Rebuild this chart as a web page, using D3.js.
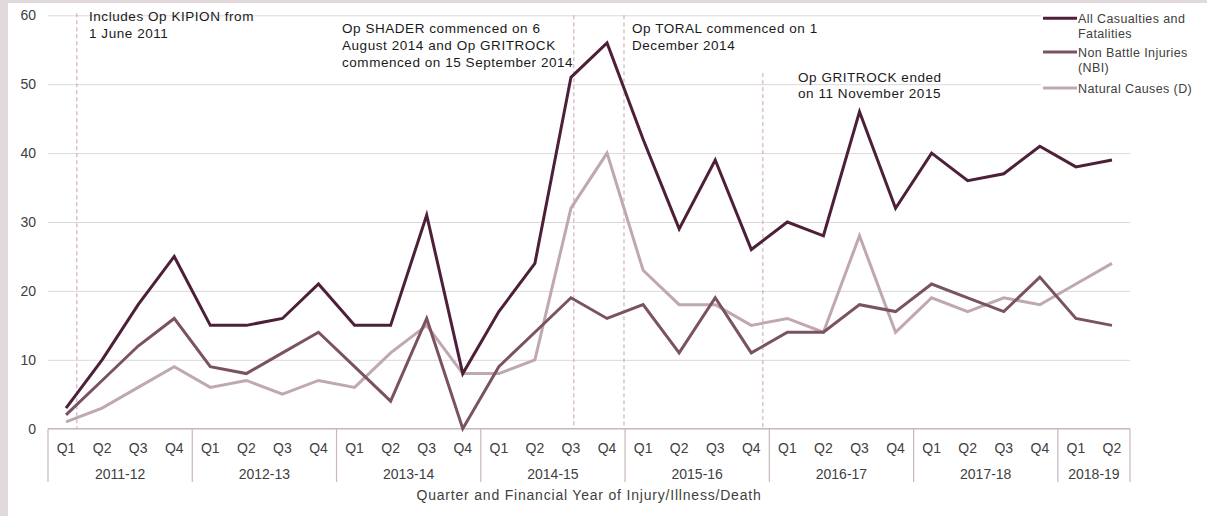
<!DOCTYPE html>
<html>
<head>
<meta charset="utf-8">
<script src="https://cdn.jsdelivr.net/npm/d3@7"></script>
<style>
    body { margin: 0; background: #fff; }
    svg { display: block; font-family: Arial, "Liberation Sans", sans-serif; }
</style>
</head>
<body>
<div id="chart"></div>
<script>
// financial years and how many quarters each one has in the chart
var years = ['2011-12', '2012-13', '2013-14', '2014-15', '2015-16', '2016-17', '2017-18', '2018-19'];
var quartersInYear = [4, 4, 4, 4, 4, 4, 4, 2];
var quarterNames = ['Q1', 'Q2', 'Q3', 'Q4'];

var allCasualties = [3, 10, 18, 25, 15, 15, 16, 21, 15, 15, 31, 8, 17, 24, 51, 56,
    42, 29, 39, 26, 30, 28, 46, 32, 40, 36, 37, 41, 38, 39];
var nonBattleInjuries = [2, 7, 12, 16, 9, 8, 11, 14, 9, 4, 16, 0, 9, 14, 19, 16,
    18, 11, 19, 11, 14, 14, 18, 17, 21, 19, 17, 22, 16, 15];
var naturalCauses = [1, 3, 6, 9, 6, 7, 5, 7, 6, 11, 15, 8, 8, 10, 32, 40,
    23, 18, 18, 15, 16, 14, 28, 14, 19, 17, 19, 18, 21, 24];

var yTicks = [0, 10, 20, 30, 40, 50, 60];

var seriesLabels = [['All Casualties and', 'Fatalities'], ['Non Battle Injuries', '(NBI)'], ['Natural Causes (D)']];
var seriesColours = ['#4e1f38', '#7a5262', '#bfa9af'];

// reference lines: position in quarters from the left edge, value where the line starts
var markers = [0.8, 14.58, 15.97, 19.82];
var markerTops = [60.3, 60, 60, 51.6];
var notes = [
    ['Includes Op KIPION from', '1 June 2011'],
    ['Op SHADER commenced on 6', 'August 2014 and Op GRITROCK', 'commenced on 15 September 2014'],
    ['Op TORAL  commenced on 1', 'December 2014'],
    ['Op GRITROCK ended', 'on 11 November 2015']
];

var width = 1207, height = 516;
var plotLeft = 48, plotRight = 1130, plotTop = 15.3, plotBottom = 428.7;

var categories = [];
years.forEach(function (yr, i) {
    for (var q = 0; q < quartersInYear[i]; q++) categories.push(yr + ' ' + quarterNames[q]);
});

var svg = d3.select('#chart').append('svg')
    .attr('width', width)
    .attr('height', height);

svg.append('rect').attr('width', width).attr('height', height).attr('fill', '#fff');
svg.append('rect').attr('width', 8).attr('height', height).attr('fill', '#e2d9dc');
svg.append('rect').attr('width', width).attr('height', 3).attr('fill', '#e2d9dc');

var x = d3.scaleBand().domain(categories).range([plotLeft, plotRight]);
var xPos = d3.scaleLinear().domain([0, categories.length]).range([plotLeft, plotRight]);
var y = d3.scaleLinear().domain([0, 60]).range([plotBottom, plotTop]);

// y axis with gridlines
var yAxisG = svg.append('g')
    .attr('transform', 'translate(' + plotLeft + ',0)')
    .call(d3.axisLeft(y).tickValues(yTicks).tickSize(-(plotRight - plotLeft)).tickPadding(12));
yAxisG.select('.domain').remove();
yAxisG.selectAll('line').attr('stroke', '#d9d9d9').attr('stroke-width', 1);
yAxisG.selectAll('text').attr('font-size', 14).attr('fill', '#404040').attr('font-family', null);

// quarter labels
var xAxisG = svg.append('g')
    .attr('transform', 'translate(0,' + plotBottom + ')')
    .call(d3.axisBottom(x).tickSize(0).tickPadding(14).tickFormat(function (d) { return d.split(' ')[1]; }));
xAxisG.select('.domain').remove();
xAxisG.selectAll('text').attr('font-size', 14).attr('fill', '#404040').attr('font-family', null);

// year groups
var bounds = [0];
quartersInYear.forEach(function (n, i) { bounds.push(bounds[i] + n); });

svg.append('line')
    .attr('x1', plotLeft).attr('x2', plotRight)
    .attr('y1', plotBottom).attr('y2', plotBottom)
    .attr('stroke', '#c9b7bc').attr('stroke-width', 1.2);

svg.selectAll('.yearSep').data(bounds).enter().append('line')
    .attr('class', 'yearSep')
    .attr('x1', function (d) { return xPos(d); })
    .attr('x2', function (d) { return xPos(d); })
    .attr('y1', plotBottom).attr('y2', 482)
    .attr('stroke', '#c9b7bc').attr('stroke-width', 1.2);

svg.selectAll('.yearLabel').data(years).enter().append('text')
    .attr('class', 'yearLabel')
    .attr('x', function (d, i) { return (xPos(bounds[i]) + xPos(bounds[i + 1])) / 2; })
    .attr('y', 479)
    .attr('text-anchor', 'middle')
    .attr('font-size', 14).attr('fill', '#404040')
    .text(function (d) { return d; });

svg.append('text')
    .attr('x', (plotLeft + plotRight) / 2)
    .attr('y', 500)
    .attr('text-anchor', 'middle')
    .attr('font-size', 14).attr('fill', '#404040')
    .attr('letter-spacing', 0.8)
    .text('Quarter and Financial Year of Injury/Illness/Death');

// dashed reference lines
svg.selectAll('.marker').data(markers).enter().append('line')
    .attr('class', 'marker')
    .attr('x1', function (d) { return xPos(d); })
    .attr('x2', function (d) { return xPos(d); })
    .attr('y1', function (d, i) { return y(markerTops[i]); })
    .attr('y2', plotBottom)
    .attr('stroke', '#c9a3b0').attr('stroke-width', 1)
    .attr('stroke-dasharray', '4,3');

// notes beside the lines
var noteX = [89, 342, 632, 798];
var noteY = [21.3, 33.3, 33.3, 81.5];
notes.forEach(function (lines, i) {
    var t = svg.append('text')
        .attr('font-size', 13.5).attr('fill', '#1a1a1a')
        .attr('letter-spacing', 0.55);
    lines.forEach(function (s, j) {
        t.append('tspan').attr('x', noteX[i]).attr('y', noteY[i] + j * 16.8).text(s);
    });
});

// series lines
var series = [allCasualties, nonBattleInjuries, naturalCauses];
var line = d3.line()
    .x(function (d, i) { return x(categories[i]) + x.bandwidth() / 2; })
    .y(function (d) { return y(d); });

svg.selectAll('.series').data(series.slice().reverse()).enter().append('path')
    .attr('class', 'series')
    .attr('d', line)
    .attr('fill', 'none')
    .attr('stroke', function (d, i) { return seriesColours[2 - i]; })
    .attr('stroke-width', 3);

// legend
var legend = svg.append('g');
legend.append('rect')
    .attr('x', 1041).attr('y', 6).attr('width', 166).attr('height', 96)
    .attr('fill', '#fff');
var legendY = [18.3, 52, 88];
seriesLabels.forEach(function (lines, i) {
    legend.append('line')
        .attr('x1', 1043).attr('x2', 1077)
        .attr('y1', legendY[i]).attr('y2', legendY[i])
        .attr('stroke', seriesColours[i]).attr('stroke-width', 3);
    var t = legend.append('text').attr('font-size', 12.5).attr('fill', '#404040')
        .attr('letter-spacing', 0.4);
    lines.forEach(function (s, j) {
        t.append('tspan').attr('x', 1078).attr('y', legendY[i] + 4.5 + j * 15).text(s);
    });
});
</script>
</body>
</html>
